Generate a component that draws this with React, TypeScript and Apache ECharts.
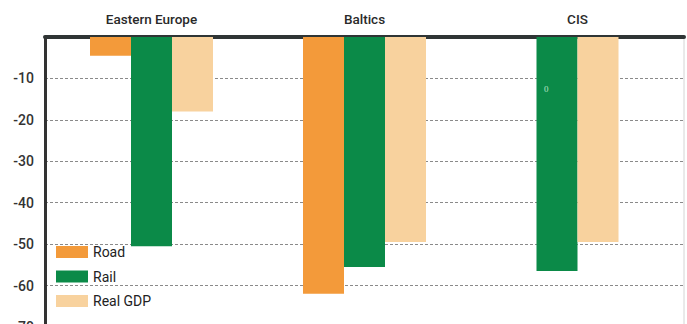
import React, { useEffect, useRef } from "react";
import * as echarts from "echarts";

const categories = ["Eastern Europe", "Baltics", "CIS"];
const roadValues: (number | null)[] = [-4.5, -62, null];
const railValues: number[] = [-50.5, -55.5, -56.5];
const gdpValues: number[] = [-18, -49.5, -49.5];
const yTicks = [0, -10, -20, -30, -40, -50, -60, -70];

const FONT = "Roboto, 'Liberation Sans', sans-serif";
const ROAD = "#F39A3A";
const RAIL = "#0B8A48";
const GDP = "#F8D29E";

export default function App() {
  const ref = useRef<HTMLDivElement>(null);
  useEffect(() => {
    if (!ref.current) return;
    const chart = echarts.init(ref.current, null, { renderer: "svg" });
    const full = (i: number) => roadValues[i] != null;
    const railFull = railValues.map((v, i) => (full(i) ? v : null));
    const gdpFull = gdpValues.map((v, i) => (full(i) ? v : null));
    const railPart = railValues.map((v, i) => (full(i) ? null : v));
    const gdpPart = gdpValues.map((v, i) => (full(i) ? null : v));
    const bar = { type: "bar", barWidth: 41, barGap: "0%" };
    chart.setOption({
      animation: false,
      grid: {
        left: 45,
        right: 3,
        top: 37,
        bottom: -3,
        outerBoundsMode: "none",
        containLabel: false,
        show: true,
        borderColor: "#d4d4d4",
        borderWidth: 1,
      },
      legend: {
        data: ["Road", "Rail", "Real GDP"],
        orient: "vertical",
        left: 56,
        top: 245,
        padding: 0,
        itemWidth: 32,
        itemHeight: 12,
        itemGap: 10.5,
        icon: "rect",
        selectedMode: false,
        textStyle: { fontFamily: FONT, fontSize: 14, fontWeight: 400, color: "#222", lineHeight: 12 },
      },
      xAxis: [
        {
          type: "category",
          data: categories,
          position: "top",
          axisLine: { show: true, lineStyle: { color: "#2f3535", width: 4 } },
          axisTick: { show: false },
          axisLabel: { fontFamily: FONT, fontSize: 13.5, fontWeight: 500, color: "#2a2a2a", margin: 11 },
          splitLine: { show: false },
        },
        {
          type: "category",
          data: categories,
          position: "top",
          show: false,
        },
      ],
      yAxis: {
        type: "value",
        min: -70,
        max: 0,
        interval: 10,
        axisLine: { show: true, lineStyle: { color: "#333", width: 3 } },
        axisTick: { show: false },
        axisLabel: {
          fontFamily: FONT,
          fontSize: 14,
          fontWeight: 500,
          color: "#333",
          margin: 11,
          formatter: (v: number) => (v === 0 || !yTicks.includes(v) ? "" : String(v)),
        },
        splitLine: { show: true, lineStyle: { color: "#8a8a8a", type: [3, 2], width: 1 } },
      },
      series: [
        { ...bar, name: "Road", data: roadValues, itemStyle: { color: ROAD }, xAxisIndex: 0 },
        { ...bar, name: "Rail", data: railFull, itemStyle: { color: RAIL }, xAxisIndex: 0 },
        { ...bar, name: "Real GDP", data: gdpFull, itemStyle: { color: GDP }, xAxisIndex: 0 },
        { ...bar, name: "Rail", data: railPart, itemStyle: { color: RAIL }, xAxisIndex: 1 },
        { ...bar, name: "Real GDP", data: gdpPart, itemStyle: { color: GDP }, xAxisIndex: 1 },
      ],
      graphic: [
        {
          type: "text",
          left: 544,
          top: 84,
          style: { text: "0", fontSize: 9, fontFamily: "serif", fill: "#b9e3c6" },
          z: 100,
        },
      ],
    });
    return () => chart.dispose();
  }, []);
  return (
    <div
      ref={ref}
      style={{ position: "absolute", left: 0, top: 0, width: 687, height: 324 }}
    />
  );
}
